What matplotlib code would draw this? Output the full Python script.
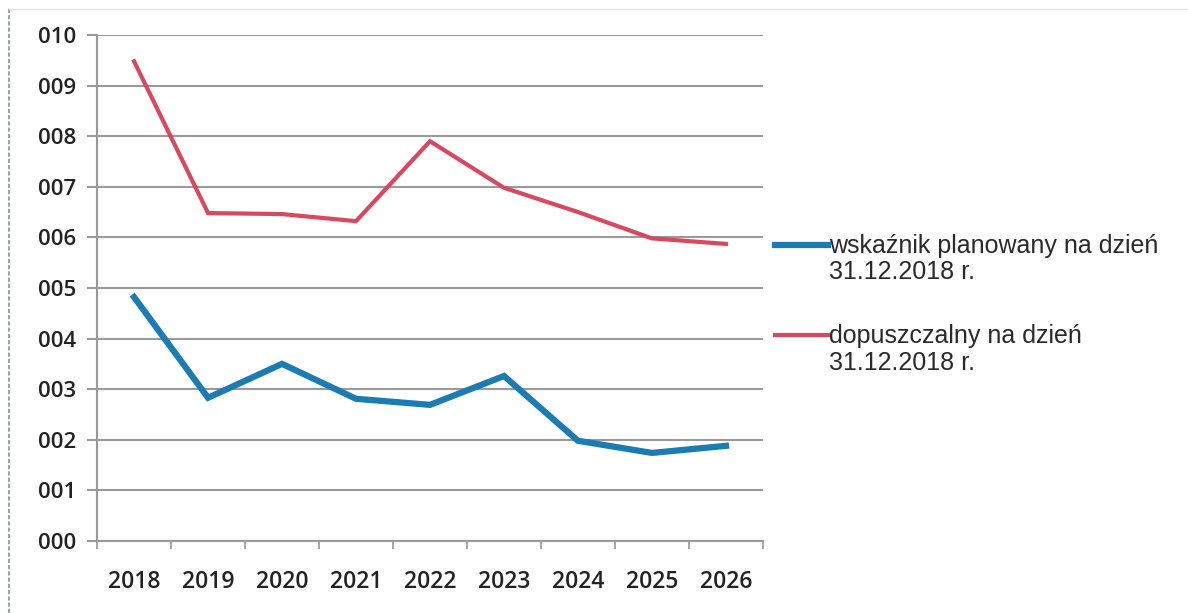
import matplotlib
matplotlib.use("Agg")
import matplotlib.pyplot as plt
from matplotlib.lines import Line2D
import numpy as np

years = ["2018", "2019", "2020", "2021", "2022", "2023", "2024", "2025", "2026"]
planowany = [4.82, 2.83, 3.50, 2.81, 2.69, 3.26, 1.98, 1.74, 1.88]
dopuszczalny = [9.48, 6.48, 6.46, 6.32, 7.90, 6.98, 6.50, 5.98, 5.87]
ytick_labels = ["000", "001", "002", "003", "004", "005", "006", "007", "008", "009", "010"]
labels = ["wskaźnik planowany na dzień\n31.12.2018 r.",
          "dopuszczalny na dzień\n31.12.2018 r."]
colors = ["#1b7bb3", "#d9485f"]
widths = [4.5, 3.0]

fig = plt.figure(figsize=(11.88, 6.13), dpi=100)
ax = fig.add_axes([0.0817, 0.1175, 0.5605, 0.8255])

x = np.arange(len(years))
ax.plot(x, planowany, color=colors[0], lw=widths[0], solid_joinstyle="miter", zorder=3)
ax.plot(x, dopuszczalny, color=colors[1], lw=widths[1], solid_joinstyle="miter", zorder=3)

ax.set_xlim(-0.5, len(years) - 0.5)
ax.set_ylim(0, 10)
ax.set_yticks(range(len(ytick_labels)))
ax.set_yticklabels(ytick_labels)
ax.set_xticks(x)
ax.set_xticklabels(years)
ax.set_xticks(np.arange(len(years) + 1) - 0.5, minor=True)

grid_c = "#9a9a9a"
ax.grid(axis="y", color=grid_c, lw=1.5)
ax.set_axisbelow(True)
for s in ["top", "right"]:
    ax.spines[s].set_visible(False)
for s in ["left", "bottom"]:
    ax.spines[s].set_color(grid_c)
    ax.spines[s].set_linewidth(1.5)

ax.tick_params(axis="y", length=7, width=1.5, color=grid_c, pad=8,
               labelsize=16, labelcolor="#222222")
ax.tick_params(axis="x", which="major", length=0, pad=21,
               labelsize=16.5, labelcolor="#222222")
ax.tick_params(axis="x", which="minor", length=6, width=1.2, color=grid_c)
for t in ax.get_xticklabels() + ax.get_yticklabels():
    t.set_family(["Open Sans", "DejaVu Sans"])
    t.set_weight("semibold")

# legend drawn by hand so that the line sits beside the first text line
leg_y = [0.601, 0.453]
for lab, c, w, yy in zip(labels, colors, widths, leg_y):
    fig.add_artist(Line2D([0.652, 0.697], [yy, yy], color=c, lw=w,
                          transform=fig.transFigure))
    fig.text(0.698, yy + 0.018, lab, ha="left", va="top", fontsize=18,
             family=["Liberation Sans", "DejaVu Sans"], color="#2a2a2a",
             linespacing=1.12)

# scan border
fig.add_artist(Line2D([0.0075, 0.0075], [0.0, 0.985], color="#9aa4aa", lw=1.5,
                      ls=(0, (2, 1)), transform=fig.transFigure))
fig.add_artist(Line2D([0.0075, 1.0], [0.985, 0.985], color="#e4e4e4", lw=1.0,
                      transform=fig.transFigure))

fig.savefig("out.png", dpi=100, facecolor="white")
